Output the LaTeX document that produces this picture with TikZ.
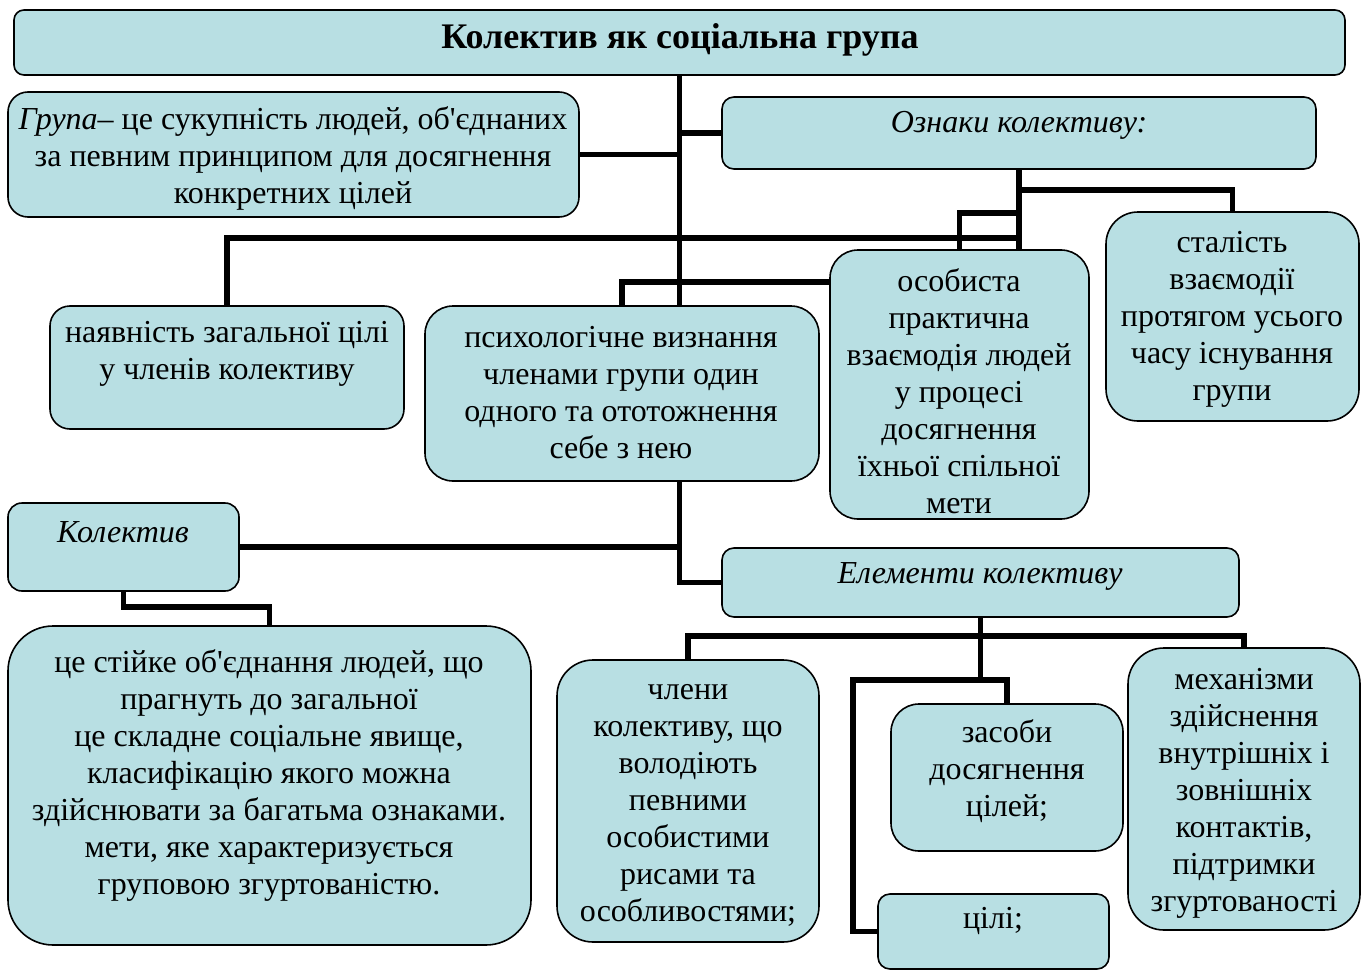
\documentclass[tikz,border=0pt]{standalone}
\usepackage{fontspec}
\setmainfont{Liberation Serif}
\begin{document}
\begin{tikzpicture}[x=1pt,y=-1pt,
  box/.style={draw=black,line width=1.6pt,fill=boxfill,inner sep=0pt},
  txt/.style={align=center,inner sep=0pt,font=\fontsize{32}{37}\selectfont},
  conn/.style={draw=black,line width=5.5pt}]
\definecolor{boxfill}{RGB}{184,223,227}
\useasboundingbox (0,0) rectangle (1368,971);
\newcommand{\bx}[6]{\node[box,rounded corners=#6,minimum width={#4-#2},minimum height={#5-#3}] (#1) at ({(#2+#4)/2},{(#3+#5)/2}) {};}
\bx{title}{14}{10}{1345}{75}{10pt}
\bx{grp}{8}{92}{579}{217}{20pt}
\bx{ozn}{722}{97}{1316}{169}{12pt}
\bx{stal}{1106}{212}{1359}{421}{32pt}
\bx{osob}{830}{250}{1089}{519}{28pt}
\bx{nay}{50}{306}{404}{429}{20pt}
\bx{psych}{425}{306}{819}{481}{28pt}
\bx{kol}{8}{503}{239}{591}{14pt}
\bx{elem}{722}{548}{1239}{617}{12pt}
\bx{stiy}{8}{626}{531}{945}{45pt}
\bx{chl}{557}{660}{819}{942}{36pt}
\bx{zas}{891}{704}{1123}{851}{28pt}
\bx{mekh}{1128}{648}{1360}{930}{36pt}
\bx{cili}{878}{894}{1109}{969}{12pt}
% connectors
\draw[conn] (title.south) -- (psych.north -| title.south);
\draw[conn] (psych.south -| title.south) |- (elem.west);
\draw[conn] (ozn.west) -- (ozn.west -| title.south);
\draw[conn] (grp.east) -- (grp.east -| title.south);
\draw[conn] (kol.east) -- (kol.east -| title.south);
\draw[conn] (nay.north) |- (ozn.south |- 0,238);
\draw[conn] (ozn.south) -- (osob.north -| ozn.south);
\draw[conn] (ozn.south |- 0,190) -| (stal.north);
\draw[conn] (ozn.south |- 0,213) -| (osob.north);
\draw[conn] (psych.north) |- (osob.west |- 0,282);
\draw[conn] (kol.south) |- (stiy.north |- 0,607) -- (stiy.north);
\draw[conn] (elem.south) -- (elem.south |- 0,680);
\draw[conn] (chl.north) |- (elem.south |- 0,636) -| (mekh.north);
\draw[conn] (zas.north) |- (853,680) |- (cili.west);
% texts
\node[txt,font=\fontsize{36}{37}\selectfont\bfseries] (ttitle) at (680,40) {Колектив як соціальна група};
\node[txt] (tgrp) at (293,158) {\textit{Група}– це сукупність людей, об\textquotesingle єднаних\\за певним принципом для досягнення\\конкретних цілей};
\node[txt] (tozn) at (1019,125) {\textit{Ознаки колективу:}};
\node[txt] (tstal) at (1232,319) {сталість\\взаємодії\\протягом усього\\часу існування\\групи};
\node[txt] (tosob) at (959,391) {особиста\\практична\\взаємодія людей\\у процесі\\досягнення\\їхньої спільної\\мети};
\node[txt] (tnay) at (227,354) {наявність загальної цілі\\у членів колективу};
\node[txt] (tpsych) at (621,393) {психологічне визнання\\членами групи один\\одного та ототожнення\\себе з нею};
\node[txt] (tkol) at (123,532) {\textit{Колектив}};
\node[txt] (telem) at (980,576) {\textit{Елементи колективу}};
\node[txt] (tstiy) at (269,775) {це стійке об\textquotesingle єднання людей, що\\прагнуть до загальної\\це складне соціальне явище,\\класифікацію якого можна\\здійснювати за багатьма ознаками.\\мети, яке характеризується\\груповою згуртованістю.};
\node[txt] (tchl) at (688,805) {члени\\колективу, що\\володіють\\певними\\особистими\\рисами та\\особливостями;};
\node[txt] (tzas) at (1007,771) {засоби\\досягнення\\цілей;};
\node[txt] (tmekh) at (1244,793) {механізми\\здійснення\\внутрішніх і\\зовнішніх\\контактів,\\підтримки\\згуртованості};
\node[txt] (tcili) at (993,921) {цілі;};
\end{tikzpicture}
\end{document}
